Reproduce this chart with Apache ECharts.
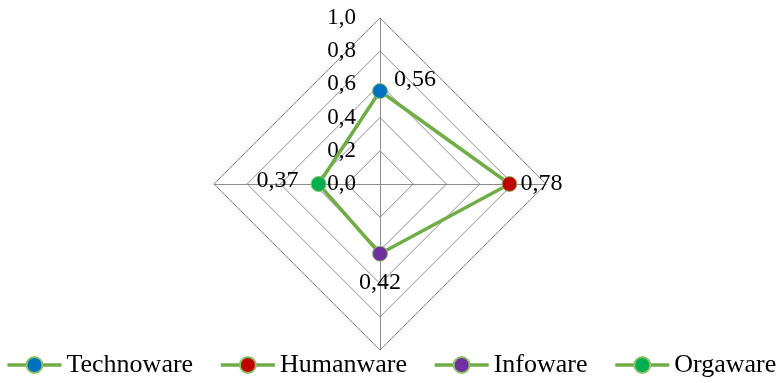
<!DOCTYPE html>
<html>
<head>
<meta charset="utf-8">
<script src="https://cdn.jsdelivr.net/npm/echarts@6/dist/echarts.min.js"></script>
<style>
html,body{margin:0;padding:0;background:#fff;}
#chart{width:782px;height:383px;}
</style>
</head>
<body>
<div id="chart"></div>
<script>
// Data
const categories = ['Technoware', 'Humanware', 'Infoware', 'Orgaware'];
const values = [0.56, 0.78, 0.42, 0.37];
const markerColors = ['#0070C0', '#C00000', '#7030A0', '#00B050'];
const axisMax = 1.0;
const tickLabels = ['0,0', '0,2', '0,4', '0,6', '0,8', '1,0'];
const labelPositions = ['right', 'right', 'bottom', 'left'];
const labelOffsets = [[0, -11], [0, 0], [0, 0], [0, -3]];
const labelDistances = [6, 3, 9, 12];

const FONT = 'Liberation Serif';
const LINE = '#70AD47';
const GRID = '#8C8C8C';
const CX = 380, CY = 184, R = 166;

function fmt(v) { return v.toFixed(2).replace('.', ','); }

// Radar indicators go counter-clockwise; reorder so the picture reads clockwise
const radarOrder = [0, 3, 2, 1];

const chart = echarts.init(document.getElementById('chart'), null, {renderer: 'canvas'});

const series = [{
  type: 'radar',
  radarIndex: 0,
  silent: true,
  symbol: 'none',
  z: 2,
  lineStyle: {color: LINE, width: 3.5},
  data: [{value: radarOrder.map(i => values[i])}]
}];

categories.forEach((c, i) => {
  series.push({
    type: 'line',
    name: c,
    coordinateSystem: 'polar',
    polarIndex: 0,
    symbol: 'circle',
    symbolSize: 15,
    z: 5,
    lineStyle: {color: LINE, width: 3.5},
    itemStyle: {color: markerColors[i], borderColor: '#8DC26A', borderWidth: 1},
    label: {
      show: true,
      position: labelPositions[i],
      distance: labelDistances[i],
      offset: labelOffsets[i],
      formatter: p => fmt(values[i]),
      fontFamily: FONT,
      fontSize: 24,
      color: '#000'
    },
    data: [[values[i], c]]
  });
});

chart.setOption({
  animation: false,
  backgroundColor: '#fff',
  radar: {
    center: [CX, CY],
    radius: R,
    shape: 'polygon',
    splitNumber: 5,
    startAngle: 90,
    axisName: {show: false},
    splitArea: {show: false},
    splitLine: {lineStyle: {color: GRID, width: 1}},
    axisLine: {lineStyle: {color: GRID, width: 1}},
    axisTick: {show: false},
    axisLabel: {show: false},
    indicator: radarOrder.map((i, k) => {
      const ind = {name: categories[i], min: 0, max: axisMax};
      if (k === 0) {
        ind.axisLabel = {
          show: true,
          fontFamily: FONT,
          fontSize: 23,
          color: '#000',
          margin: 24,
          formatter: (v) => tickLabels[Math.round(v / 0.2)]
        };
      }
      return ind;
    })
  },
  polar: {center: [CX, CY], radius: R},
  angleAxis: {
    type: 'category',
    data: categories,
    startAngle: 90,
    clockwise: true,
    boundaryGap: false,
    show: false
  },
  radiusAxis: {min: 0, max: axisMax, show: false},
  legend: {
    data: categories,
    bottom: 0,
    left: 'center',
    itemWidth: 54,
    itemHeight: 20,
    itemGap: 26,
    lineStyle: {width: 3.5},
    textStyle: {fontFamily: FONT, fontSize: 26, color: '#000'}
  },
  series: series
});
</script>
</body>
</html>
